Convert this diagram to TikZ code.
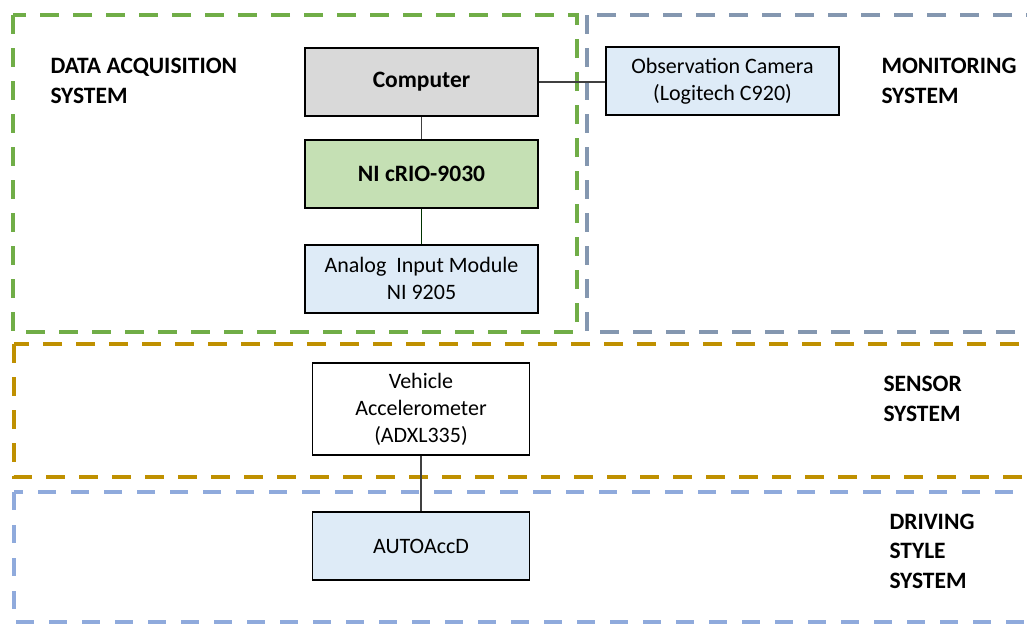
\documentclass[tikz,border=0pt]{standalone}
\usepackage{fontspec}
\setmainfont{Carlito}
\usetikzlibrary{positioning}

\definecolor{daqgreen}{HTML}{70AD47}
\definecolor{monslate}{HTML}{8497B0}
\definecolor{sensgold}{HTML}{BF9000}
\definecolor{drvblue}{HTML}{8FAADC}
\definecolor{pcgray}{HTML}{D9D9D9}
\definecolor{riogreen}{HTML}{C5E0B4}
\definecolor{modblue}{HTML}{DEEBF7}

\begin{document}
\begin{tikzpicture}[x=1pt, y=-1pt,
      module/.style={draw=black, line width=1.8pt, rectangle, minimum width=233pt, minimum height=68pt, inner sep=0pt, align=center, font=\fontsize{22}{27}\selectfont}, % cajas de equipos
      boldmodule/.style={module, font=\bfseries\fontsize{23.5}{28}\selectfont},
      sysbox/.style={line width=4pt, dash pattern=on 19pt off 14pt}, % recuadros de subsistemas
      syslabel/.style={anchor=west, align=left, font=\bfseries\fontsize{23.5}{29.5}\selectfont},
      link/.style={draw=black!75, line width=1.5pt}
    ]
    \clip (0,0) rectangle (1027,625);
    % Subsystem frames
    \draw [sysbox, draw=monslate] (587,15) rectangle (1060,332);
    \draw [sysbox, draw=daqgreen] (13,15) rectangle (577,332);
    \draw [sysbox, draw=sensgold] (14,344) rectangle (1060,477);
    \draw [sysbox, draw=drvblue, line width=3.5pt, dash pattern=on 18pt off 15pt] (14,492) rectangle (1060,622);
    % Subsystem labels
    \node [syslabel] (daqlabel) at (47,81) {DATA ACQUISITION\\SYSTEM};
    \node [syslabel] (monlabel) at (878,81) {MONITORING\\SYSTEM};
    \node [syslabel] (senslabel) at (880,399) {SENSOR\\SYSTEM};
    \node [syslabel] (drvlabel) at (886,551) {DRIVING\\STYLE\\SYSTEM};
    % Data acquisition chain
    \node [boldmodule, fill=pcgray] (computer) at (421.5,82) {Computer};
    \node [boldmodule, fill=riogreen, below=22pt of computer] (crio) {NI cRIO-9030};
    \node [module, fill=modblue, below=35pt of crio] (analog) {Analog~ Input Module\\NI 9205};
    % Monitoring
    \node [module, fill=modblue] (camera) at (722.5,81) {Observation Camera\\(Logitech C920)};
    % Sensor and driving style
    \node [module, minimum width=217pt, minimum height=92pt] (accel) at (421,409) {Vehicle\\Accelerometer\\(ADXL335)};
    \node [module, fill=modblue, minimum width=217pt] (autoaccd) at (421,546) {AUTOAccD};
    % Connections
    \draw [link] (computer.east) -- (camera.west |- computer.east);
    \draw [link] (computer) -- (crio);
    \draw [link, draw=black!80!green] (crio) -- (analog);
    \draw [link] (accel) -- (autoaccd);
\end{tikzpicture}
\end{document}
